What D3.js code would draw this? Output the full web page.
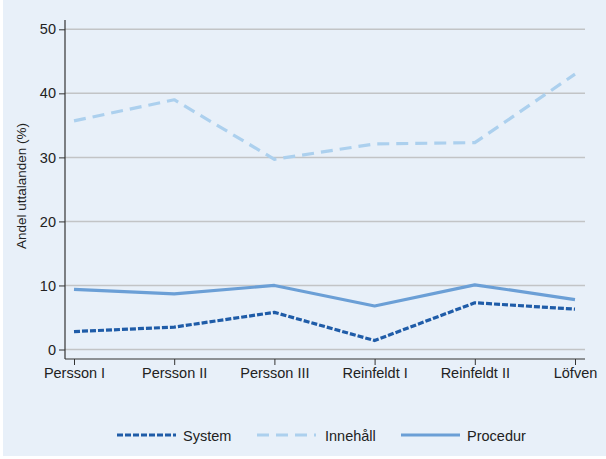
<!DOCTYPE html>
<html><head><meta charset="utf-8">
<script src="https://cdn.jsdelivr.net/npm/d3@7"></script>
<style>html,body{margin:0;padding:0;background:#fff;}svg{display:block;font-family:"Liberation Sans",Arial,sans-serif;}</style>
</head><body>
<svg id="chart" width="606" height="459"></svg>
<script>
const categories = ["Persson I","Persson II","Persson III","Reinfeldt I","Reinfeldt II","Löfven"];
const system = [2.8, 3.5, 5.8, 1.4, 7.3, 6.3];
const innehall = [35.7, 39.0, 29.7, 32.1, 32.3, 43.0];
const procedur = [9.4, 8.7, 10.0, 6.8, 10.1, 7.8];
const yTicks = [0,10,20,30,40,50];
const seriesNames = ["System","Innehåll","Procedur"];

const svg = d3.select("#chart");
svg.append("rect").attr("x",3).attr("y",0).attr("width",603).attr("height",456).attr("fill","#e8f0f9");

const x = d3.scalePoint().domain(categories).range([74,575]);
const y = d3.scaleLinear().domain([0,50]).range([349.5,29.3]);

// gridlines
svg.append("g").selectAll("line").data(yTicks).join("line")
  .attr("x1",65).attr("x2",585).attr("y1",d=>y(d)).attr("y2",d=>y(d))
  .attr("stroke","#c2c4c6").attr("stroke-width",1.5);

// axes
const yAxis = svg.append("g").attr("transform","translate(65,0)")
  .call(d3.axisLeft(y).tickValues(yTicks).tickSize(6).tickPadding(3));
yAxis.select(".domain").attr("d","M0,20V359");
const xAxis = svg.append("g").attr("transform","translate(0,359)")
  .call(d3.axisBottom(x).tickSize(6).tickPadding(3));
xAxis.select(".domain").attr("d","M65,0H585");
svg.selectAll(".domain").attr("stroke","#333").attr("stroke-width",1.2);
svg.selectAll(".tick line").attr("stroke","#333");
svg.selectAll(".tick text").attr("font-size",14.5).attr("fill","#222").attr("font-family","Liberation Sans, Arial, sans-serif");

svg.append("text").attr("transform","translate(26,186) rotate(-90)")
  .attr("text-anchor","middle").attr("font-size",13.5).attr("fill","#222").text("Andel uttalanden (%)");

const line = d3.line().x((d,i)=>x(categories[i])).y(d=>y(d));
const styles = [
  {data: system, color:"#1f5ca8", dash:"6,2", w:3.2},
  {data: innehall, color:"#acd0ee", dash:"12,7", w:3.2},
  {data: procedur, color:"#6b9fd6", dash:null, w:3.2}
];
// draw order: innehall, procedur, system
[1,2,0].forEach(k=>{
  const s = styles[k];
  svg.append("path").attr("d",line(s.data)).attr("fill","none")
    .attr("stroke",s.color).attr("stroke-width",s.w)
    .attr("stroke-dasharray",s.dash).attr("stroke-linejoin","round");
});

// legend
const legX = [117,257,401];
const legText = [183,325,467];
seriesNames.forEach((n,i)=>{
  const s = styles[i];
  svg.append("line").attr("x1",legX[i]).attr("x2",legX[i]+59).attr("y1",435).attr("y2",435)
    .attr("stroke",s.color).attr("stroke-width",s.w).attr("stroke-dasharray",s.dash);
  svg.append("text").attr("x",legText[i]).attr("y",440.5).attr("font-size",14.5).attr("fill","#222").text(n);
});
</script>
</body></html>
